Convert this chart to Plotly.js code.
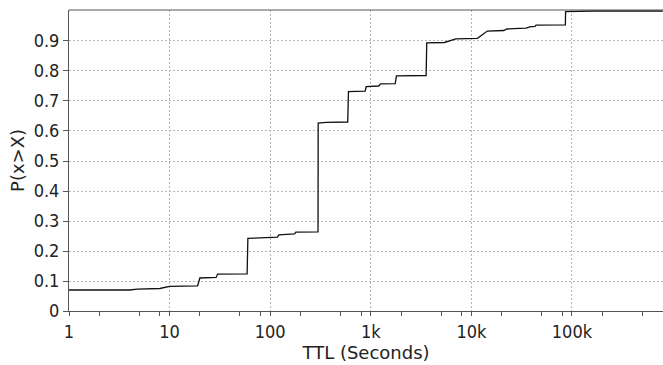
<!DOCTYPE html>
<html>
<head>
<meta charset="utf-8">
<script src="https://cdn.plot.ly/plotly-3.0.1.min.js"></script>
<style>html,body{margin:0;padding:0;background:#fff;}#chart{width:663px;height:365px;}</style>
</head>
<body>
<div id="chart"></div>
<script>
// TTL values (seconds) and cumulative probability
const ttlSeconds = [1, 4, 4.8, 8, 10, 19, 20, 29, 30, 59, 60, 100, 118, 122, 175, 180, 299, 300, 360, 590, 600, 880, 900, 1200, 1250, 1750, 1800, 3550, 3600, 5400, 7000, 11500, 14400, 21000, 22500, 35000, 38000, 43000, 44000, 86000, 86400, 160000, 800000];
const probability = [0.070, 0.070, 0.073, 0.075, 0.082, 0.084, 0.110, 0.112, 0.123, 0.124, 0.242, 0.244, 0.246, 0.254, 0.257, 0.263, 0.264, 0.626, 0.629, 0.630, 0.731, 0.733, 0.748, 0.750, 0.757, 0.758, 0.784, 0.785, 0.894, 0.895, 0.907, 0.909, 0.933, 0.935, 0.940, 0.943, 0.947, 0.949, 0.953, 0.954, 0.998, 1.0, 1.0];
const xTickVals = [1, 10, 100, 1000, 10000, 100000];
const xTickText = ['1', '10', '100', '1k', '10k', '100k'];
const xMinorVals = [2, 5, 8, 20, 50, 80, 200, 500, 800, 2000, 5000, 8000, 20000, 50000, 80000, 200000, 500000];
const yTickVals = [0, 0.1, 0.2, 0.3, 0.4, 0.5, 0.6, 0.7, 0.8, 0.9];
const yTickText = ['0', '0.1', '0.2', '0.3', '0.4', '0.5', '0.6', '0.7', '0.8', '0.9'];

const tickFam = '"DejaVu Sans Condensed", "DejaVu Sans", sans-serif';
const titleFam = '"DejaVu Sans", sans-serif';

const trace = {
  x: ttlSeconds, y: probability, type: 'scatter', mode: 'lines',
  line: {color: '#111', width: 1.3, shape: 'linear'},
  hoverinfo: 'skip'
};

const layout = {
  width: 663, height: 365,
  margin: {l: 69, r: 0, t: 10, b: 54},
  paper_bgcolor: '#fff', plot_bgcolor: '#fff',
  showlegend: false,
  font: {family: tickFam, size: 18, color: '#222'},
  xaxis: {
    type: 'log', range: [0, 5.905],
    tickmode: 'array', tickvals: xTickVals, ticktext: xTickText,
    ticks: 'outside', ticklen: 4, tickcolor: '#555', tickwidth: 1,
    showgrid: true, gridcolor: '#b5b5b5', griddash: '2px,2px', gridwidth: 1,
    minor: {tickmode: 'array', tickvals: xMinorVals, ticks: 'outside', ticklen: 4, tickcolor: '#555', showgrid: false},
    showline: true, linecolor: '#555', linewidth: 1, mirror: false,
    zeroline: false,
    automargin: false,
    title: {text: 'TTL (Seconds)', font: {family: titleFam, size: 18, color: '#222'}, standoff: 2},
    tickfont: {family: tickFam, size: 18, color: '#222'}
  },
  yaxis: {
    range: [0, 1.0033],
    tickmode: 'array', tickvals: yTickVals, ticktext: yTickText,
    ticks: 'outside', ticklen: 5, tickcolor: '#555', tickwidth: 1,
    showgrid: true, gridcolor: '#b5b5b5', griddash: '2px,2px', gridwidth: 1,
    showline: true, linecolor: '#555', linewidth: 1, mirror: false,
    zeroline: false,
    automargin: false,
    title: {text: 'P(x>X)', font: {family: titleFam, size: 18, color: '#222'}, standoff: 4},
    tickfont: {family: tickFam, size: 18, color: '#222'}
  },
  shapes: [
    {type: 'line', xref: 'paper', yref: 'paper', x0: 0, x1: 1, y0: 1, y1: 1, line: {color: '#555', width: 1}}
  ]
};

Plotly.newPlot('chart', [trace], layout, {displayModeBar: false, staticPlot: true});
</script>
</body>
</html>
